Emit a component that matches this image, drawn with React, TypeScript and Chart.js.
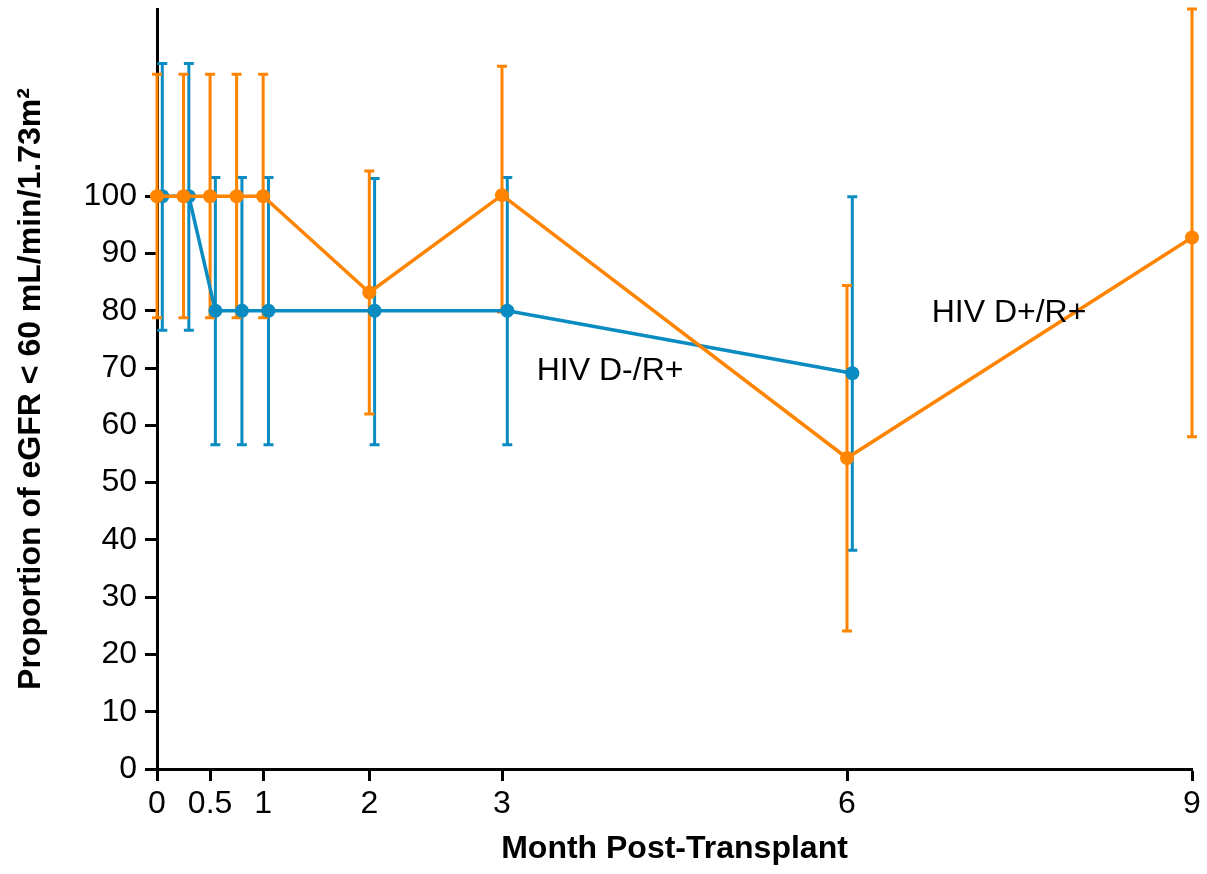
import { useEffect, useRef } from 'react';
import { Chart, registerables } from 'chart.js';

Chart.register(...registerables);

// x positions are in weeks post-transplant; tick labels are months
const xTickWeeks = [0, 2, 4, 8, 13, 26, 39];
const xTickLabels = ['0', '0.5', '1', '2', '3', '6', '9'];
const yTickValues = [0, 10, 20, 30, 40, 50, 60, 70, 80, 90, 100];

// HIV D+/R+ (orange)
const orangeWeeks = [0, 1, 2, 3, 4, 8, 13, 26, 39];
const orangeValues = [100, 100, 100, 100, 100, 83.2, 100.2, 54.3, 92.8];
const orangeLow = [78.8, 78.8, 78.8, 78.8, 78.8, 62.0, 79.8, 24.1, 58.0];
const orangeHigh = [121.3, 121.3, 121.3, 121.3, 121.3, 104.4, 122.7, 84.4, 132.7];

// HIV D-/R+ (blue), slightly offset in x
const blueWeeks = [0.2, 1.2, 2.2, 3.2, 4.2, 8.2, 13.2, 26.2];
const blueValues = [100, 100, 80, 80, 80, 80, 80, 69.1];
const blueLow = [76.6, 76.6, 56.6, 56.6, 56.6, 56.6, 56.6, 38.2];
const blueHigh = [123.2, 123.2, 103.3, 103.3, 103.3, 103.1, 103.3, 99.9];

const annotations = [
  { text: 'HIV D-/R+', x: 14.31, y: 67.9 },
  { text: 'HIV D+/R+', x: 29.19, y: 78.1 },
];

const ORANGE = '#ff8400';
const BLUE = '#0a8cc2';
const FONT = "'Liberation Sans', Arial, sans-serif";

export default function App() {
  const ref = useRef<HTMLCanvasElement>(null);

  useEffect(() => {
    document.body.style.margin = '0';
    const canvas = ref.current;
    if (!canvas) return;

    const errorBars = {
      id: 'errorBars',
      beforeDatasetsDraw(chart: any) {
        const xs = chart.scales.x;
        const ys = chart.scales.y;
        const ctx = chart.ctx;
        // draw blue (index 1) first, then orange (index 0)
        [1, 0].forEach((di) => {
          const ds = chart.data.datasets[di];
          if (!ds.errLow) return;
          ctx.save();
          ctx.strokeStyle = ds.borderColor;
          ctx.lineWidth = 3;
          ctx.lineCap = 'butt';
          ds.data.forEach((p: any, i: number) => {
            const px = xs.getPixelForValue(p.x);
            const lo = ys.getPixelForValue(ds.errLow[i]);
            const hi = ys.getPixelForValue(ds.errHigh[i]);
            ctx.beginPath();
            ctx.moveTo(px, lo);
            ctx.lineTo(px, hi);
            ctx.moveTo(px - 5, lo);
            ctx.lineTo(px + 5, lo);
            ctx.moveTo(px - 5, hi);
            ctx.lineTo(px + 5, hi);
            ctx.stroke();
          });
          ctx.restore();
        });
      },
    };

    const labels = {
      id: 'seriesLabels',
      afterDatasetsDraw(chart: any) {
        const xs = chart.scales.x;
        const ys = chart.scales.y;
        const ctx = chart.ctx;
        ctx.save();
        ctx.fillStyle = '#000';
        ctx.font = `32px ${FONT}`;
        ctx.textAlign = 'left';
        ctx.textBaseline = 'alphabetic';
        annotations.forEach((a) => {
          ctx.fillText(a.text, xs.getPixelForValue(a.x), ys.getPixelForValue(a.y));
        });
        ctx.restore();
      },
    };

    const chart = new Chart(canvas, {
      type: 'line',
      data: {
        datasets: [
          {
            label: 'HIV D+/R+',
            data: orangeWeeks.map((w, i) => ({ x: w, y: orangeValues[i] })),
            borderColor: ORANGE,
            backgroundColor: ORANGE,
            borderWidth: 3.5,
            pointRadius: 7,
            pointBorderWidth: 0,
            pointBackgroundColor: ORANGE,
            tension: 0,
            clip: false,
            errLow: orangeLow,
            errHigh: orangeHigh,
          } as any,
          {
            label: 'HIV D-/R+',
            data: blueWeeks.map((w, i) => ({ x: w, y: blueValues[i] })),
            borderColor: BLUE,
            backgroundColor: BLUE,
            borderWidth: 3.5,
            pointRadius: 7,
            pointBorderWidth: 0,
            pointBackgroundColor: BLUE,
            tension: 0,
            clip: false,
            errLow: blueLow,
            errHigh: blueHigh,
          } as any,
        ],
      },
      options: {
        animation: false,
        responsive: false,
        layout: { padding: { top: 9, right: 15, left: 0, bottom: 0 } },
        plugins: {
          legend: { display: false },
          tooltip: { enabled: false },
        },
        scales: {
          x: {
            type: 'linear',
            min: 0,
            max: 39,
            afterBuildTicks: (scale: any) => {
              scale.ticks = xTickWeeks.map((v) => ({ value: v }));
            },
            afterFit: (scale: any) => {
              scale.height = 105;
              scale.paddingLeft = 0;
              scale.paddingRight = 0;
            },
            ticks: {
              autoSkip: false,
              maxRotation: 0,
              color: '#000',
              padding: 4,
              font: { family: FONT, size: 32 },
              callback: (value: any) => {
                const idx = xTickWeeks.indexOf(Number(value));
                return idx >= 0 ? xTickLabels[idx] : '';
              },
            },
            grid: {
              display: true,
              drawOnChartArea: false,
              drawTicks: true,
              tickLength: 12,
              tickWidth: 3,
              tickColor: '#000',
            },
            border: { display: true, color: '#000', width: 3 },
            title: {
              display: true,
              text: 'Month Post-Transplant',
              color: '#000',
              font: { family: FONT, size: 32, weight: 'bold' },
              padding: { top: 0, bottom: 6 },
            },
          },
          y: {
            type: 'linear',
            min: 0,
            max: 132.7,
            afterBuildTicks: (scale: any) => {
              scale.ticks = yTickValues.map((v) => ({ value: v }));
            },
            afterFit: (scale: any) => {
              scale.width = 157;
              scale.paddingTop = 0;
              scale.paddingBottom = 0;
            },
            ticks: {
              autoSkip: false,
              color: '#000',
              padding: 8,
              font: { family: FONT, size: 32 },
            },
            grid: {
              display: true,
              drawOnChartArea: false,
              drawTicks: true,
              tickLength: 12,
              tickWidth: 3,
              tickColor: '#000',
            },
            border: { display: true, color: '#000', width: 3 },
            title: {
              display: true,
              text: 'Proportion of eGFR < 60 mL/min/1.73m²',
              color: '#000',
              font: { family: FONT, size: 32, weight: 'bold' },
              padding: { top: 12, bottom: 0 },
            },
          },
        },
      } as any,
      plugins: [errorBars, labels],
    });

    return () => chart.destroy();
  }, []);

  return (
    <div style={{ position: 'absolute', left: 0, top: 0, width: 1207, height: 874 }}>
      <canvas ref={ref} width={1207} height={874} style={{ display: 'block' }} />
    </div>
  );
}
